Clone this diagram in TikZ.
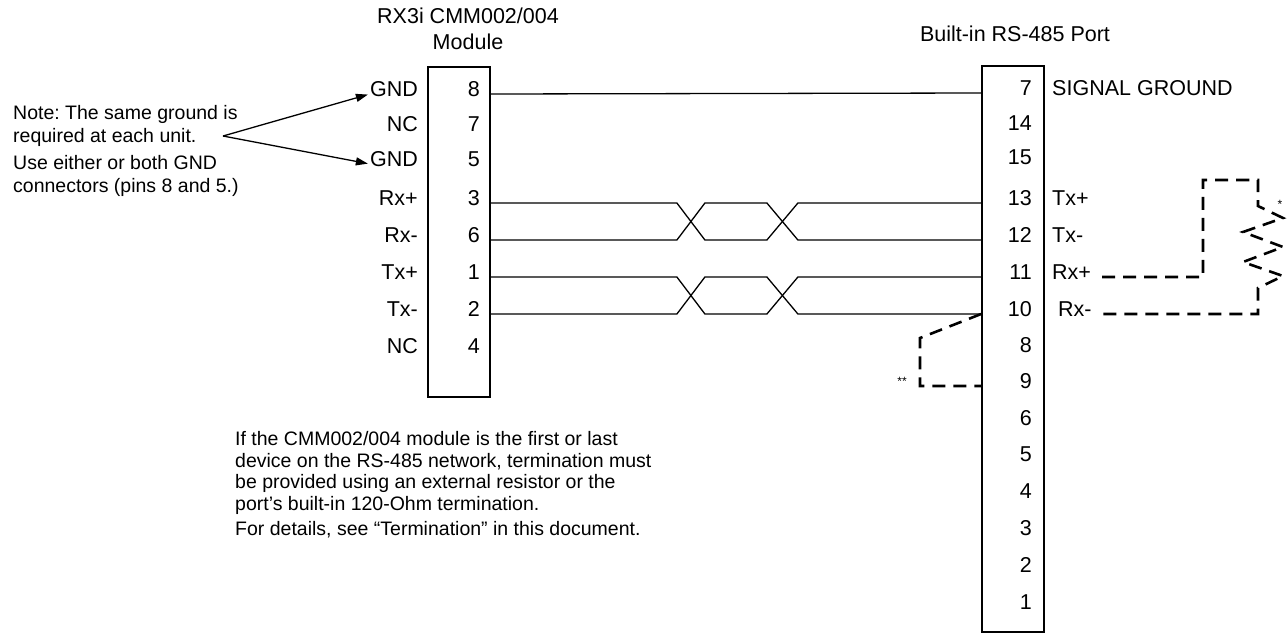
\documentclass[tikz,border=0pt]{standalone}
\usepackage{fontspec}
\setmainfont{Liberation Sans}
\usetikzlibrary{arrows.meta,calc,positioning}
\frenchspacing
\tikzset{
    box/.style = {
        draw,
        line width=1.8pt,
        inner sep=0pt,
        },
    pin/.style = {
        anchor=mid east,
        inner sep=0pt,
        },
    signal/.style = {
        anchor=mid west,
        inner sep=0pt,
        },
    wire/.style = {
        draw,
        line width=1.3pt,
        },
    jumper/.style = {
        draw,
        line width=2.6pt,
        dash pattern=on 13pt off 8pt,
        },
    remark/.style = {
        align=left,
        anchor=north west,
        inner sep=0pt,
        },
    footmark/.style = {
        inner sep=0pt,
        font=\fontsize{12}{13}\selectfont,
        },
    pointer/.style = {
        line width=1.3pt,
        shorten >=2pt,
        -{Triangle[length=12pt,width=8pt]},
        },
}

\begin{document}
\begin{tikzpicture}[x=1pt, y=-1pt, font=\fontsize{21.5}{24.5}\selectfont]
            \useasboundingbox (0,0) rectangle (1287,633);

            % the two connectors
            \node[box, minimum width=62pt, minimum height=330pt] (mod) at (459,232) {};
            \node[box, minimum width=62pt, minimum height=566pt] (port) at (1013,349) {};

            \node[align=center, font=\fontsize{21.5}{26}\selectfont] (modname) at (468,29) {RX3i CMM002/004\\Module};
            \node (portname) at (1015,34) {Built-in RS-485 Port};

            % module pins
            \node[pin] (m8) at (480,94) {8};
            \node[pin] (m7) at (480,129) {7};
            \node[pin] (m5) at (480,164) {5};
            \node[pin] (m3) at (480,203) {3};
            \node[pin] (m6) at (480,240) {6};
            \node[pin] (m1) at (480,277) {1};
            \node[pin] (m2) at (480,314) {2};
            \node[pin] (m4) at (480,351) {4};

            \node[pin] (gnda) at (418,94) {GND};
            \node[pin] (nca) at (418,129) {NC};
            \node[pin] (gndb) at (418,164) {GND};
            \node[pin] (mrxp) at (418,203) {Rx+};
            \node[pin] (mrxm) at (418,240) {Rx-};
            \node[pin] (mtxp) at (418,277) {Tx+};
            \node[pin] (mtxm) at (418,314) {Tx-};
            \node[pin] (ncb) at (418,351) {NC};

            % port pins
            \node[pin] (p7) at (1032,93) {7};
            \node[pin] (p14) at (1032,128) {14};
            \node[pin] (p15) at (1032,162) {15};
            \node[pin] (p13) at (1032,203) {13};
            \node[pin] (p12) at (1032,240) {12};
            \node[pin] (p11) at (1032,277) {11};
            \node[pin] (p10) at (1032,314) {10};
            \node[pin] (p8) at (1032,350) {8};
            \node[pin] (p9) at (1032,386) {9};
            \node[pin] (p6) at (1032,423) {6};
            \node[pin] (p5) at (1032,459) {5};
            \node[pin] (p4) at (1032,496) {4};
            \node[pin] (p3) at (1032,533) {3};
            \node[pin] (p2) at (1032,570) {2};
            \node[pin] (p1) at (1032,607) {1};

            \node[signal] (sgnd) at (1052,93) {SIGNAL GROUND};
            \node[signal] (ptxp) at (1052,203) {Tx+};
            \node[signal] (ptxm) at (1052,240) {Tx-};
            \node[signal] (prxp) at (1052,277) {Rx+};
            \node[signal] (prxm) at (1058,314) {Rx-};

            % notes
            \node[remark, font=\fontsize{19.5}{23}\selectfont] (gndnote) at (13,105) {Note: The same ground is\\required at each unit.\\[4pt]Use either or both GND\\connectors (pins 8 and 5.)};
            \node[remark, font=\fontsize{19.5}{21.7}\selectfont] (termnote) at (235,431) {If the CMM002/004 module is the first or last\\device on the RS-485 network, termination must\\be provided using an external resistor or the\\port’s built-in 120-Ohm termination.\\[3pt]For details, see “Termination” in this document.};

            \coordinate (fork) at (223,136);
            \draw[pointer] (fork) -- (gnda.mid west);
            \draw[pointer] (fork) -- (gndb.mid west);

            % wires
            \path[wire] (mod.east |- m8.mid east) -- (port.west |- p7.mid east);
            \path[wire] (mod.east |- m3.mid east) -- ++(186,0) -- ++(28,37) -- ++(62,0) -- ++(31,-37) -- (port.west |- p13.mid east);
            \path[wire] (mod.east |- m6.mid east) -- ++(186,0) -- ++(28,-37) -- ++(62,0) -- ++(31,37) -- (port.west |- p12.mid east);
            \path[wire] (mod.east |- m1.mid east) -- ++(186,0) -- ++(28,37) -- ++(62,0) -- ++(31,-37) -- (port.west |- p11.mid east);
            \path[wire] (mod.east |- m2.mid east) -- ++(186,0) -- ++(28,-37) -- ++(62,0) -- ++(31,37) -- (port.west |- p10.mid east);

            % termination jumpers
            \coordinate (bend) at (920,338);
            \path[jumper] (port.west |- p10.mid east) -- (bend) |- (port.west |- p9.mid east);
            \node[footmark, anchor=mid east] (dstar) at (907,383) {**};

            \coordinate (loop) at (1203,180);
            \coordinate (rtop) at (1258,206);
            \path[jumper] ([xshift=11pt]prxp.mid east) -| (loop) -| (rtop) -- ++(25,12) -- ++(-40,14) -- ++(40,15) -- ++(-40,15) -- ++(40,14) -- ++(-25,12) |- ([xshift=11pt]prxm.mid east);
            \node[footmark] (sstar) at (1280,204) {*};
        \end{tikzpicture}
\end{document}
